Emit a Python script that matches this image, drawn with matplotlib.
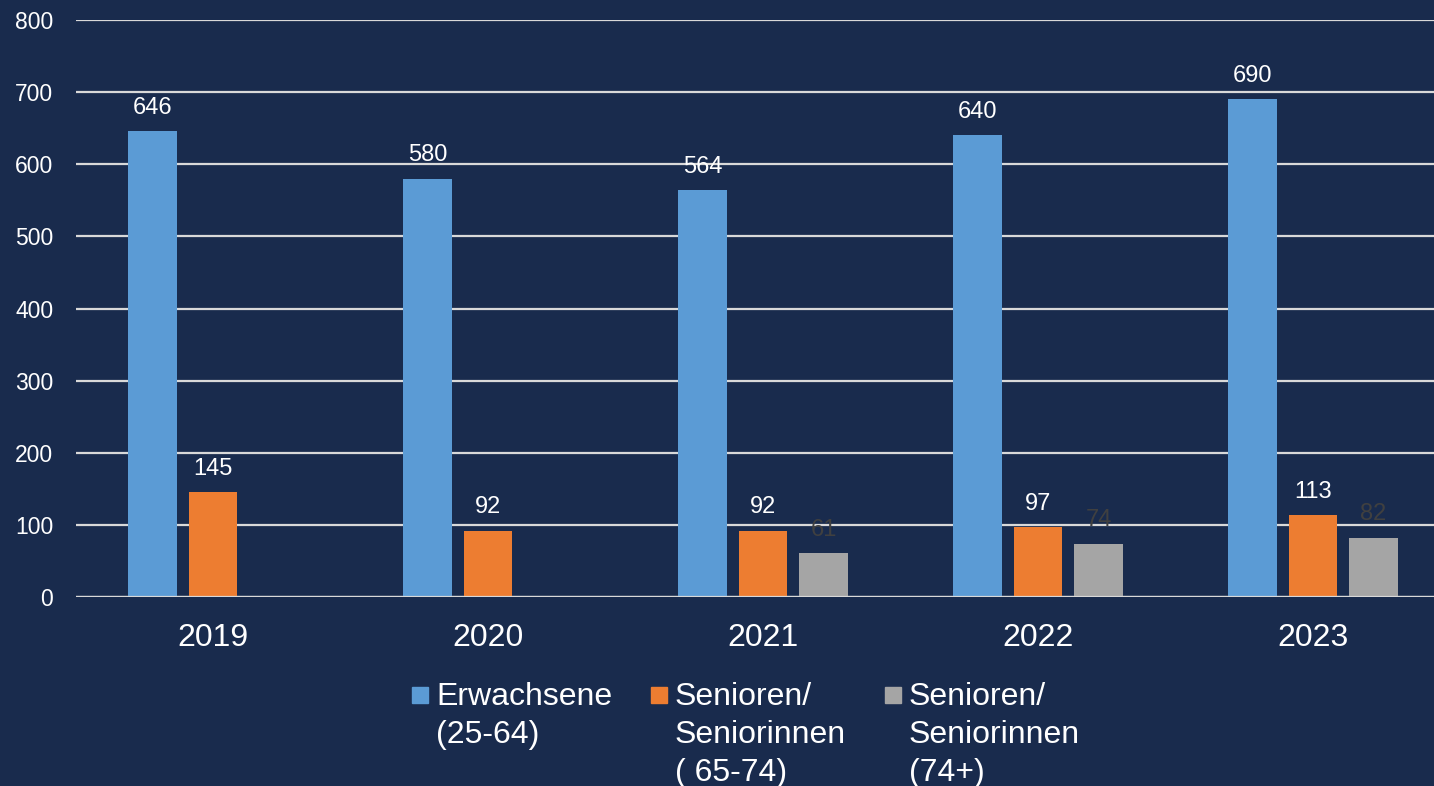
import numpy as np
import matplotlib.pyplot as plt
from matplotlib.patches import Rectangle

plt.rcParams['font.family'] = ['Liberation Sans', 'DejaVu Sans']

years = ['2019', '2020', '2021', '2022', '2023']
erwachsene = [646, 580, 564, 640, 690]
senioren_65 = [145, 92, 92, 97, 113]
senioren_74 = [np.nan, np.nan, 61, 74, 82]
legend_labels = ['Erwachsene\n(25-64)', 'Senioren/\nSeniorinnen\n( 65-74)', 'Senioren/\nSeniorinnen\n(74+)']

bg = '#192B4D'
colors = ['#5B9BD5', '#ED7D31', '#A5A5A5']
label_colors = ['white', 'white', '#404040']

fig = plt.figure(figsize=(14.34, 7.86), dpi=100, facecolor=bg)
ax = fig.add_axes([75.5/1434, 1-597/786, 1375/1434, 577/786])
ax.set_facecolor(bg)

x = np.arange(len(years))
w = 0.175
offsets = [-0.22, 0, 0.22]
series = [erwachsene, senioren_65, senioren_74]
for s, off, c, lc in zip(series, offsets, colors, label_colors):
    vals = np.array(s, dtype=float)
    ax.bar(x + off, vals, w, color=c, zorder=3)
    for xi, v in zip(x + off, vals):
        if not np.isnan(v):
            ax.annotate(f'{int(v)}', (xi, v), xytext=(0, 9), textcoords='offset points',
                        ha='center', va='bottom', color=lc, fontsize=17)

ax.set_xlim(-0.5, len(years) - 0.5)
ax.set_ylim(0, 800)
ax.set_yticks(range(0, 801, 100))
ax.set_xticks(x)
ax.set_xticklabels(years)
ax.grid(axis='y', color='#D9D9D9', linewidth=1.6, zorder=1)
ax.axhline(0, color='#D9D9D9', linewidth=1.6, zorder=4)
for sp in ax.spines.values():
    sp.set_visible(False)
ax.tick_params(axis='y', length=0, pad=16, labelsize=16.5, labelcolor='white')
ax.tick_params(axis='x', length=0, pad=19, labelsize=23, labelcolor='white')

# legend drawn by hand (multi-line entries, top aligned)
leg_x = [412, 651, 885]
for lx, lab, c in zip(leg_x, legend_labels, colors):
    fig.patches.append(Rectangle((lx/1434, 1-703/786), 16/1434, 16/786,
                                 transform=fig.transFigure, color=c))
    fig.text((lx+24)/1434, 1-682/786, lab, color='white', fontsize=23,
             ha='left', va='top', linespacing=1.34)

fig.savefig('out.png', dpi=100, facecolor=bg)
